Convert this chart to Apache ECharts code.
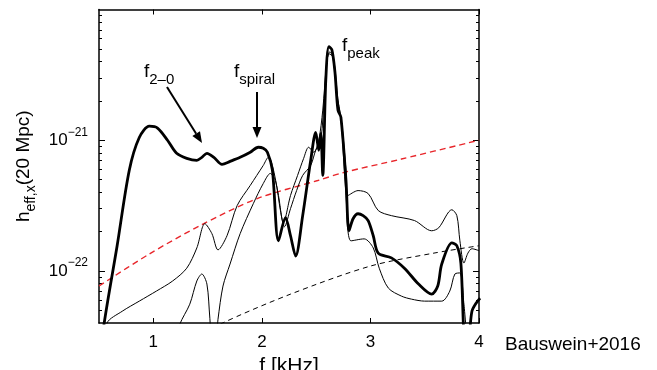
<!DOCTYPE html>
<html><head><meta charset="utf-8">
<script src="https://cdn.jsdelivr.net/npm/echarts@6/dist/echarts.min.js"></script>
<style>html,body{margin:0;padding:0;background:#fff}#c{width:657px;height:370px}</style>
</head><body><div id="c"></div>
<script>
// frequency [kHz], h_eff,x
const thickCurve = [
 [0.54,3.0e-23],[0.546,3.9e-23],[0.667,1.56e-22],[0.779,5.9e-22],[0.871,1.05e-21],[0.964,1.28e-21],
 [1.039,1.24e-21],[1.131,1.0e-21],[1.215,7.94e-22],[1.308,7.27e-22],[1.401,7.02e-22],[1.447,7.4e-22],
 [1.494,7.94e-22],[1.558,7.4e-22],[1.633,6.54e-22],[1.707,6.89e-22],[1.800,7.4e-22],[1.893,8.09e-22],
 [1.967,8.84e-22],[2.013,8.68e-22],[2.051,8.09e-22],[2.097,5.9e-22],[2.153,1.70e-22],[2.218,2.56e-22],
 [2.264,1.86e-22],[2.311,1.30e-22],[2.376,2.65e-22],[2.450,7.02e-22],[2.496,1.15e-21],[2.524,8.38e-22],
 [2.543,1.13e-21],[2.561,5.38e-22],[2.589,2.9e-21],[2.617,5.19e-21],[2.645,4.92e-21],[2.673,3.33e-21],
 [2.701,1.70e-21],[2.728,1.50e-21],[2.775,4.92e-22],[2.803,2.03e-22],[2.840,2.51e-22],[2.886,2.74e-22],
 [2.933,2.65e-22],[2.979,2.43e-22],[3.026,1.86e-22],[3.072,1.37e-22],[3.193,1.26e-22],[3.313,1.05e-22],
 [3.443,7.94e-23],[3.564,6.65e-23],[3.620,7.67e-23],[3.657,1.13e-22],[3.750,1.64e-22],[3.796,1.56e-22],
 [3.833,1.15e-22],[3.870,3.0e-23],[3.898,3.0e-23],[3.935,4.92e-23],[3.973,5.67e-23],[4.01,6.2e-23]
];
const thinCurveA = [
 [0.56,3.0e-23],[0.574,4.0e-23],[0.714,4.92e-23],[0.871,5.88e-23],[1.029,7.02e-23],[1.178,8.38e-23],
 [1.308,1.05e-22],[1.401,1.50e-22],[1.475,2.30e-22],[1.540,1.93e-22],[1.596,1.45e-22],[1.679,1.86e-22],
 [1.772,3.16e-22],[1.893,4.51e-22],[2.013,6.42e-22],[2.060,7.4e-22],[2.097,6.42e-22],[2.153,3.78e-22],
 [2.199,2.34e-22],[2.264,3.78e-22],[2.329,5.38e-22],[2.385,7.27e-22],[2.431,8.84e-22],[2.478,8.09e-22],
 [2.524,1.0e-21],[2.561,1.70e-21],[2.598,3.98e-21],[2.626,4.75e-21],[2.663,4.12e-21],[2.701,2.03e-21],
 [2.738,1.30e-21],[2.775,5.88e-22],[2.793,3.78e-22],[2.886,4.12e-22],[2.979,3.91e-22],[3.072,2.90e-22],
 [3.193,2.65e-22],[3.406,2.43e-22],[3.564,2.03e-22],[3.629,2.14e-22],[3.750,2.94e-22],[3.796,2.65e-22],
 [3.824,1.70e-22],[3.861,1.15e-22],[3.898,1.37e-22],[3.935,1.48e-22],[4.0,1.43e-22]
];
const thinCurveB = [
 [1.215,3.0e-23],[1.243,3.9e-23],[1.336,5.57e-23],[1.401,8.38e-23],[1.447,9.48e-23],[1.494,7.94e-23],
 [1.521,4.35e-23],[1.540,3.0e-23],[1.577,3.0e-23],[1.596,4.27e-23],[1.642,7.67e-23],[1.707,1.13e-22],
 [1.800,1.93e-22],[1.921,3.27e-22],[2.013,4.67e-22],[2.078,5.57e-22],[2.125,4.92e-22],[2.171,2.90e-22],
 [2.208,2.18e-22],[2.264,3.0e-22],[2.320,4.12e-22],[2.376,5.38e-22],[2.450,6.42e-22],[2.496,8.38e-22],
 [2.543,1.0e-21],[2.580,2.43e-21],[2.617,4.59e-21],[2.654,4.35e-21],[2.691,2.22e-21],[2.728,1.48e-21],
 [2.775,3.78e-22],[2.821,1.70e-22],[2.942,1.76e-22],[3.026,1.50e-22],[3.081,1.05e-22],[3.165,7.40e-23],
 [3.286,6.42e-23],[3.378,6.09e-23],[3.499,5.88e-23],[3.657,5.88e-23],[3.731,7.02e-23],[3.778,9.48e-23],
 [3.824,9.66e-23],[3.861,5.57e-23],[3.889,3.0e-23]
];
const redDashed = [
 [0.5,7.67e-23],[0.964,1.35e-22],[1.429,2.22e-22],[1.958,3.58e-22],[2.515,4.92e-22],[2.756,5.67e-22],
 [3.286,7.18e-22],[4.0,1.0e-21]
];
const blackDashed = [
 [1.56,3.5e-23],[1.614,3.91e-23],[2.264,6.65e-23],[3.0,1.09e-22],[3.585,1.37e-22],[4.0,1.56e-22]
];
const xTicks = [1, 2, 3, 4];
const yMajorTicks = [1e-22, 1e-21];
const yMinorTicks = [5e-23,6e-23,7e-23,8e-23,9e-23,2e-22,3e-22,4e-22,5e-22,6e-22,7e-22,8e-22,9e-22,
  2e-21,3e-21,4e-21,5e-21,6e-21,7e-21,8e-21,9e-21];
const annotations = [
  {main: 'f', sub: '2–0'}, {main: 'f', sub: 'spiral'}, {main: 'f', sub: 'peak'}
];
const sourceNote = 'Bauswein+2016';

const FONT = '"Liberation Sans", Arial, Helvetica, sans-serif';
const chart = echarts.init(document.getElementById('c'));
const yMin = 4e-23, yMax = 1e-20;
function yAx(pos, ticks, len, showLine, labels) {
  return {
    type: 'log', logBase: 10, min: yMin, max: yMax, position: pos,
    axisLine: {show: showLine, onZero: false, lineStyle: {color: '#000', width: 1.5}},
    axisTick: {show: true, inside: true, length: len, customValues: ticks, lineStyle: {color: '#000', width: 1}},
    minorTick: {show: false},
    splitLine: {show: false},
    axisLabel: labels ? {
      show: true, customValues: yMajorTicks, margin: 11, color: '#000', fontFamily: FONT, fontSize: 17,
      formatter: v => '10{s|−' + Math.round(-Math.log10(v)) + '}',
      rich: {s: {fontSize: 12, fontFamily: FONT, color: '#000', padding: [0, 0, 16, 0]}}
    } : {show: false},
    name: labels ? 'h{s|eff,x}(20 Mpc)' : '',
    nameLocation: 'middle', nameGap: 55, nameRotate: 90,
    nameTextStyle: {color: '#000', fontFamily: FONT, fontSize: 19,
      rich: {s: {fontSize: 14, fontFamily: FONT, color: '#000', padding: [14, 0, 0, 0]}}}
  };
}
function xAx(pos, labels) {
  return {
    type: 'value', min: 0.5, max: 4, position: pos,
    axisLine: {show: true, onZero: false, lineStyle: {color: '#000', width: 1.5}},
    axisTick: {show: true, inside: true, length: 5, customValues: xTicks, lineStyle: {color: '#000', width: 1}},
    splitLine: {show: false},
    axisLabel: labels ? {show: true, customValues: xTicks, margin: 11, color: '#000', fontFamily: FONT, fontSize: 17} : {show: false},
    name: labels ? 'f [kHz]' : '', nameLocation: 'middle', nameGap: 28,
    nameTextStyle: {color: '#000', fontFamily: FONT, fontSize: 21, verticalAlign: 'top'}
  };
}
function line(data, width, color, type, z) {
  return {type: 'line', data: data, showSymbol: false, symbol: 'none', smooth: 0.3, z: z,
    lineStyle: {color: color, width: width, type: type}, xAxisIndex: 0, yAxisIndex: 0, animation: false};
}
function arrowHead(tip, dir, len, half) {
  const n = Math.hypot(dir[0], dir[1]); const u = [dir[0]/n, dir[1]/n];
  const b = [tip[0]-u[0]*len, tip[1]-u[1]*len]; const p = [-u[1]*half, u[0]*half];
  return {shape: [tip, [b[0]+p[0], b[1]+p[1]], [b[0]-p[0], b[1]-p[1]]], base: b};
}
const h1 = arrowHead([202,143],[35,56],11,4.5);
const h2 = arrowHead([257,138],[0,1],11,4.5);
function annText(x, y, a) {
  return {type: 'text', x: x, y: y, z: 20, style: {text: a.main + '{s|' + a.sub + '}', fill: '#000',
    font: '19px ' + FONT, verticalAlign: 'top',
    rich: {s: {fontSize: 15, fontFamily: FONT, fill: '#000', padding: [15, 0, 0, 0]}}}};
}
chart.setOption({
  animation: false,
  grid: {left: 99, right: 178, top: 9.5, bottom: 47, outerBoundsMode: 'none', containLabel: false},
  xAxis: [xAx('bottom', true), xAx('top', false)],
  yAxis: [yAx('left', yMajorTicks, 6, true, true), yAx('right', yMajorTicks, 6, true, false),
          yAx('left', yMinorTicks, 3, false, false), yAx('right', yMinorTicks, 3, false, false)],
  series: [
    line(redDashed, 1.4, '#e8262b', [6, 4], 2),
    line(blackDashed, 1, '#000', [5, 4], 2),
    line(thinCurveA, 1, '#000', 'solid', 3),
    line(thinCurveB, 1, '#000', 'solid', 3),
    line(thickCurve, 2.8, '#000', 'solid', 4)
  ],
  graphic: [
    annText(144, 57, annotations[0]),
    annText(234, 57, annotations[1]),
    annText(342, 31, annotations[2]),
    {type: 'line', z: 20, shape: {x1: 167, y1: 87, x2: h1.base[0], y2: h1.base[1]}, style: {stroke: '#000', lineWidth: 2}},
    {type: 'polygon', z: 20, shape: {points: h1.shape}, style: {fill: '#000'}},
    {type: 'line', z: 20, shape: {x1: 257, y1: 92, x2: h2.base[0], y2: h2.base[1]}, style: {stroke: '#000', lineWidth: 2}},
    {type: 'polygon', z: 20, shape: {points: h2.shape}, style: {fill: '#000'}},
    {type: 'text', x: 505, y: 345, z: 20, style: {text: sourceNote, fill: '#000', font: '19px ' + FONT, verticalAlign: 'middle'}}
  ]
});
</script></body></html>
